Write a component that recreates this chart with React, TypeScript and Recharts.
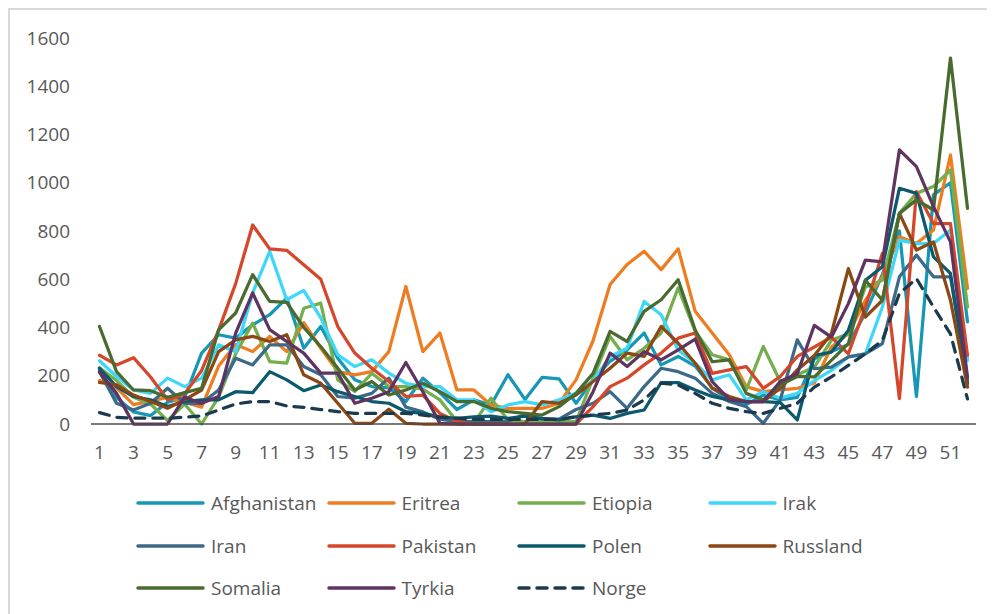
import React from "react";
import { LineChart, Line, XAxis, YAxis } from "recharts";

const weeks = [1,2,3,4,5,6,7,8,9,10,11,12,13,14,15,16,17,18,19,20,21,22,23,24,25,26,27,28,29,30,31,32,33,34,35,36,37,38,39,40,41,42,43,44,45,46,47,48,49,50,51,52];
const yTicks = [0, 200, 400, 600, 800, 1000, 1200, 1400, 1600];

const afghanistan = [224,110,50,35,90,110,294,370,356,411,453,522,314,404,273,183,155,150,93,190,130,60,100,79,204,102,193,187,86,183,260,307,377,245,280,240,150,100,80,120,100,110,270,300,330,460,620,800,114,950,1000,423];
const eritrea = [180,150,80,95,110,90,70,240,330,300,363,300,420,314,217,204,217,300,570,300,377,141,141,79,65,65,65,86,183,345,578,661,716,640,726,467,377,287,155,134,141,148,170,319,374,513,610,776,748,804,1115,562];
const etiopia = [233,180,111,83,14,83,0,111,291,418,259,252,480,501,183,135,210,155,155,145,100,10,5,107,17,10,10,10,10,190,363,266,314,377,564,384,287,266,141,321,176,204,236,347,374,568,596,873,956,984,1053,485];
const irak = [262,197,141,127,190,155,190,328,300,543,716,515,554,440,287,238,266,211,169,155,155,100,100,51,79,93,79,100,127,180,280,314,508,453,307,252,183,204,100,134,107,127,180,222,278,291,485,762,748,748,804,264];
const iran = [217,86,58,86,148,86,86,141,273,245,328,328,238,204,114,107,127,190,70,50,20,10,10,10,10,40,20,20,60,86,134,65,155,231,217,190,127,93,72,3,100,349,229,236,278,291,333,610,700,610,610,181];
const pakistan = [285,245,275,195,100,125,222,389,582,825,726,720,660,600,404,294,231,176,114,120,44,10,0,0,0,0,0,0,0,72,155,190,245,294,356,377,210,224,238,148,197,280,319,360,291,485,707,105,963,831,831,284];
const polen = [231,155,114,100,72,93,100,100,134,130,217,183,138,162,134,114,93,86,51,44,30,23,30,33,23,33,23,17,30,37,23,44,58,172,172,141,114,100,93,93,89,17,284,298,388,596,652,977,956,693,624,167];
const russland = [172,162,120,93,65,100,141,300,349,363,342,370,204,169,86,3,3,61,3,0,0,0,0,0,0,0,93,86,120,176,231,294,280,404,335,252,148,114,93,93,148,224,284,374,644,443,513,873,721,755,513,153];
const somalia = [404,217,141,138,111,130,148,390,460,619,508,504,400,321,231,141,176,120,141,169,134,93,93,65,51,44,37,72,127,210,384,342,467,515,598,390,258,266,127,100,162,197,195,264,333,596,513,873,929,887,1517,894];
const tyrkia = [215,127,0,0,0,111,86,114,377,543,391,342,294,211,211,86,107,134,255,134,3,0,0,0,0,0,0,0,0,134,294,238,300,266,307,352,176,102,93,93,176,208,409,360,499,679,672,1136,1067,901,755,195];
const norge = [47,28,24,24,24,28,33,58,83,93,93,75,69,60,51,44,44,44,44,37,28,24,19,19,19,19,19,19,30,37,44,58,100,169,162,127,86,65,51,44,65,86,153,195,243,291,347,541,603,485,374,104];

const seriesDefs = [
  { key: "Afghanistan", values: afghanistan, color: "#1597B5", dashed: false },
  { key: "Eritrea", values: eritrea, color: "#EE7D22", dashed: false },
  { key: "Etiopia", values: etiopia, color: "#75AE4F", dashed: false },
  { key: "Irak", values: irak, color: "#3DD8F9", dashed: false },
  { key: "Iran", values: iran, color: "#3C6A88", dashed: false },
  { key: "Pakistan", values: pakistan, color: "#D5472A", dashed: false },
  { key: "Polen", values: polen, color: "#0B596C", dashed: false },
  { key: "Russland", values: russland, color: "#8C4713", dashed: false },
  { key: "Somalia", values: somalia, color: "#4A6B2F", dashed: false },
  { key: "Tyrkia", values: tyrkia, color: "#5F3461", dashed: false },
  { key: "Norge", values: norge, color: "#1C3A4D", dashed: true },
];

const data = weeks.map((w, i) => {
  const row: Record<string, number> = { week: w };
  seriesDefs.forEach((s) => {
    row[s.key] = s.values[i];
  });
  return row;
});

const FONT = "'Open Sans', sans-serif";
const TEXT = "#595959";

export default function App() {
  return (
    <div style={{ position: "relative", width: 987, height: 606, fontFamily: FONT }}>
      <div
        style={{
          position: "absolute",
          left: 0,
          top: 0,
          width: 987,
          height: 606,
          borderLeft: "2px solid #D9D9D9",
          borderTop: "2px solid #D9D9D9",
          boxSizing: "border-box",
          pointerEvents: "none",
        }}
      />
      <LineChart
        width={987}
        height={606}
        data={data}
        margin={{ top: 30, right: 19, left: 0, bottom: 150 }}
      >
        <XAxis
          dataKey="week"
          interval={1}
          height={40}
          padding={{ left: 8.5, right: 8.5 }}
          tickLine={false}
          tickSize={0}
          tickMargin={22}
          axisLine={{ stroke: "#4d4d4d", strokeWidth: 1.5 }}
          tick={{ fill: TEXT, fontSize: 19, fontFamily: FONT }}
        />
        <YAxis
          width={83}
          domain={[0, 1600]}
          ticks={yTicks}
          axisLine={false}
          tickLine={false}
          tickSize={0}
          tickMargin={21}
          tick={{ fill: TEXT, fontSize: 19, fontFamily: FONT }}
        />
        {seriesDefs.map((s) => (
          <Line
            key={s.key}
            type="linear"
            dataKey={s.key}
            stroke={s.color}
            strokeWidth={3.25}
            strokeDasharray={s.dashed ? "10 8" : undefined}
            strokeLinecap="round"
            strokeLinejoin="round"
            dot={false}
            activeDot={false}
            isAnimationActive={false}
          />
        ))}
      </LineChart>
      {seriesDefs.map((s, i) => {
        const col = i % 4;
        const row = Math.floor(i / 4);
        const left = 128 + col * 190.5;
        const top = 483 + row * 42.5;
        return (
          <div
            key={s.key}
            style={{
              position: "absolute",
              left,
              top,
              height: 24,
              display: "flex",
              alignItems: "center",
              whiteSpace: "nowrap",
            }}
          >
            <svg width={75} height={24} style={{ display: "block" }}>
              <line
                x1={2}
                y1={12}
                x2={67}
                y2={12}
                stroke={s.color}
                strokeWidth={3.5}
                strokeLinecap="round"
                strokeDasharray={s.dashed ? "10 8" : undefined}
              />
            </svg>
            <span style={{ fontSize: 19, color: TEXT, lineHeight: "24px", fontFamily: FONT }}>{s.key}</span>
          </div>
        );
      })}
    </div>
  );
}
